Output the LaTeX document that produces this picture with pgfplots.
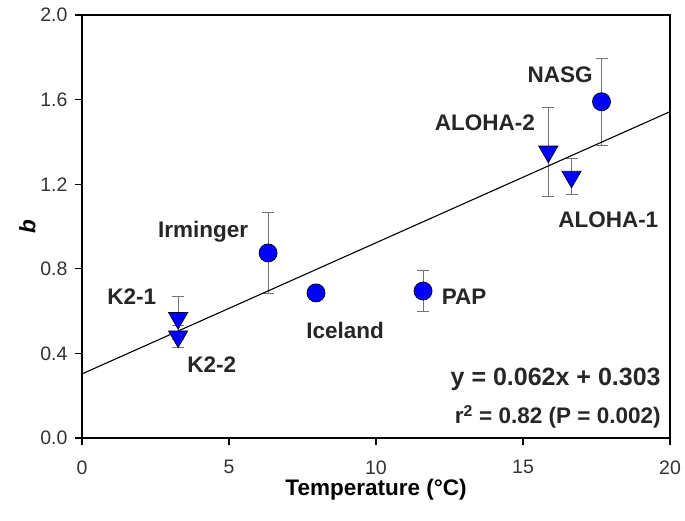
\documentclass[border=0pt]{standalone}
\usepackage{fontspec}
\setmainfont{Liberation Sans}
\usepackage{pgfplots}
\pgfplotsset{compat=1.18}
\usetikzlibrary{calc}
\definecolor{mblue}{RGB}{0,0,255}
\begin{document}
\begin{tikzpicture}
\begin{axis}[name=ax, scale only axis, width=588pt, height=423pt,
  xmin=0, xmax=20, ymin=0, ymax=2,
  xtick={0,5,10,15,20}, ytick={0,0.4,0.8,1.2,1.6,2.0},
  yticklabel style={xshift=-4pt, /pgf/number format/.cd, fixed, fixed zerofill, precision=1},
  /pgf/number format/assume math mode=true,
  tick label style={font=\fontsize{19.5}{22}\selectfont, text=black!80},
  xticklabel style={yshift=-12pt},
  axis line style={line width=1.6pt},
  tick style={line width=1.2pt, black},
  major tick length=7pt,
  tick align=outside, xtick pos=bottom, ytick pos=left,
  xlabel={\textbf{Temperature (°C)}},
  xlabel style={yshift=2pt},
  ylabel={\textbf{\textit{b}}},
  ylabel style={yshift=-2pt},
  label style={font=\fontsize{22.5}{26}\selectfont},
  clip=false,
]
% circles: Irminger, Iceland, PAP, NASG
\addplot[only marks, mark=*, mark size=9pt, mark options={fill=mblue, draw=black!80!blue, line width=0.8pt},
  error bars/.cd, y dir=both, y explicit,
  error bar style={black!55, line width=1pt},
  error mark options={rotate=90, black!55, mark size=6pt, line width=1pt}]
  coordinates {
  (6.33,0.875) +- (0,0.19)
  (7.96,0.686) +- (0,0)
  (11.6,0.695) +- (0,0.095)
  (17.67,1.59) +- (0,0.205)
  };
% triangles: K2-1, K2-2, ALOHA-2, ALOHA-1
\addplot[only marks, mark=triangle*, mark size=11pt, mark options={rotate=180, fill=mblue, draw=black!80!blue, line width=0.8pt},
  error bars/.cd, y dir=both, y explicit,
  error bar style={black!55, line width=1pt},
  error mark options={rotate=90, black!55, mark size=6pt, line width=1pt}]
  coordinates {
  (3.27,0.567) +- (0,0.10)
  (3.27,0.48) +- (0,0.05)
  (15.86,1.354) +- (0,0.21)
  (16.65,1.235) +- (0,0.085)
  };
% regression line
\addplot[black, line width=1.1pt] coordinates {(0,0.303) (20,1.543)};
% labels
\begin{scope}[every node/.style={font=\fontsize{22.5}{26}\selectfont\bfseries, text=black!85}]
\node at (axis cs:1.69,0.668) {K2-1};
\node at (axis cs:4.41,0.345) {K2-2};
\node at (axis cs:4.12,0.974) {Irminger};
\node at (axis cs:8.95,0.51) {Iceland};
\node at (axis cs:13.0,0.667) {PAP};
\node at (axis cs:13.7,1.49) {ALOHA-2};
\node at (axis cs:17.9,1.03) {ALOHA-1};
\node at (axis cs:16.26,1.716) {NASG};
\end{scope}
\node[anchor=east, font=\fontsize{25}{28}\selectfont\bfseries, text=black!85] at (axis cs:19.8,0.279) {y = 0.062x + 0.303};
\node[anchor=east, font=\fontsize{22.5}{26}\selectfont\bfseries, text=black!85] at (axis cs:19.8,0.10) {r\textsuperscript{2} = 0.82 (P = 0.002)};
\end{axis}
\pgfresetboundingbox
\path ($(ax.south west)+(-82pt,-82pt)$) rectangle ($(ax.north east)+(15pt,15pt)$);
\end{tikzpicture}
\end{document}
